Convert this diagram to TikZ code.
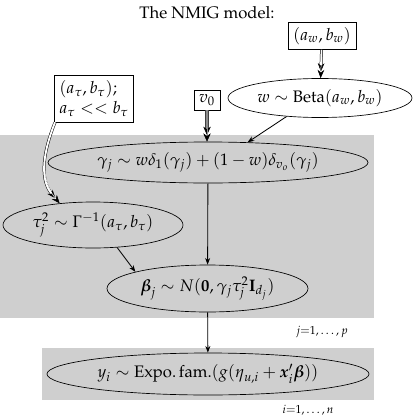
\documentclass[tikz,border=0pt]{standalone}
\usepackage{amsmath, amssymb}
\usepackage{mathpazo}
\usepackage[T1]{fontenc}
\usetikzlibrary{arrows.meta, shapes.geometric}

\begin{document}
\begin{tikzpicture}[
    x=0.6pt, y=-0.6pt,
    >=Stealth,
    plate/.style={fill=black!19, draw=none},
    dist/.style={draw, ellipse, inner sep=0pt},
    hyper/.style={draw, rectangle, inner sep=2pt, fill=white, align=left},
    link/.style={line width=0.5pt, -{Stealth[length=4pt, width=3pt]}},
    dbl/.style={preaction={draw, double, double distance=1.1pt, shorten >=4pt},
        draw=white, line width=0.3pt, -{Stealth[length=5pt, width=4pt, color=black]}},
    fixd/.style={preaction={draw=black!75, double=black!45, double distance=1.3pt, shorten >=4pt},
        draw=black!45, line width=0.3pt, -{Stealth[length=5pt, width=4.5pt, color=black]}},
    idx/.style={font=\scriptsize}
]
\useasboundingbox (0,0) rectangle (412,416);

\fill[plate] (0,135) rectangle (374,318);
\fill[plate] (42,348) rectangle (374,400);

\node (title) at (207,13) {The NMIG model:};

\node[hyper, minimum width=40.8pt, minimum height=16.2pt] (awbw) at (322,36) {$(a_w, b_w)$};
\node[hyper, minimum width=15.6pt, minimum height=12pt] (vzero) at (207,100) {$v_0$};
\node[hyper, minimum width=44.4pt, minimum height=28.2pt, inner sep=3pt] (atbt) at (94,98.5) {$(a_\tau, b_\tau);$\\$a_\tau << b_\tau$};

\node[dist, minimum width=110.4pt, minimum height=23.4pt] (wbeta) at (320,98) {$w \sim \mathrm{Beta}(a_w, b_w)$};
\node[dist, minimum width=192pt, minimum height=24.6pt] (gam) at (208,162.5) {$\gamma_j \sim w\delta_1(\gamma_j) + (1-w)\delta_{v_o}(\gamma_j)$};
\node[dist, minimum width=108pt, minimum height=27.6pt] (tauj) at (93,225) {$\tau_j^2 \sim \Gamma^{-1}(a_\tau, b_\tau)$};
\node[dist, minimum width=120.6pt, minimum height=28.2pt] (betaj) at (207.5,288.5) {$\boldsymbol{\beta}_j \sim N(\mathbf{0}, \gamma_j\tau_j^2\mathbf{I}_{d_j})$};
\node[dist, minimum width=193.2pt, minimum height=25.2pt] (yi) at (208,374) {$y_i \sim \text{Expo.\,fam.}(g(\eta_{u,i} + \boldsymbol{x}_i'\boldsymbol{\beta}))$};

\node[idx] (jlab) at (322,332) {$j{=}1,\ldots,p$};
\node[idx] (ilab) at (308,410) {$i{=}1,\ldots,n$};

\draw[dbl] (awbw) -- (wbeta);
\draw[fixd] (vzero) -- (gam.north -| vzero);
\draw[link] (wbeta.209) -- (gam.27);
\draw[dbl] (atbt.south west) ++(1,0) to[out=-112, in=130] (tauj.147);
\draw[link] (gam) -- (betaj);
\draw[link] (tauj.317) -- (betaj.167);
\draw[link] (betaj) -- (yi);

\end{tikzpicture}
\end{document}
